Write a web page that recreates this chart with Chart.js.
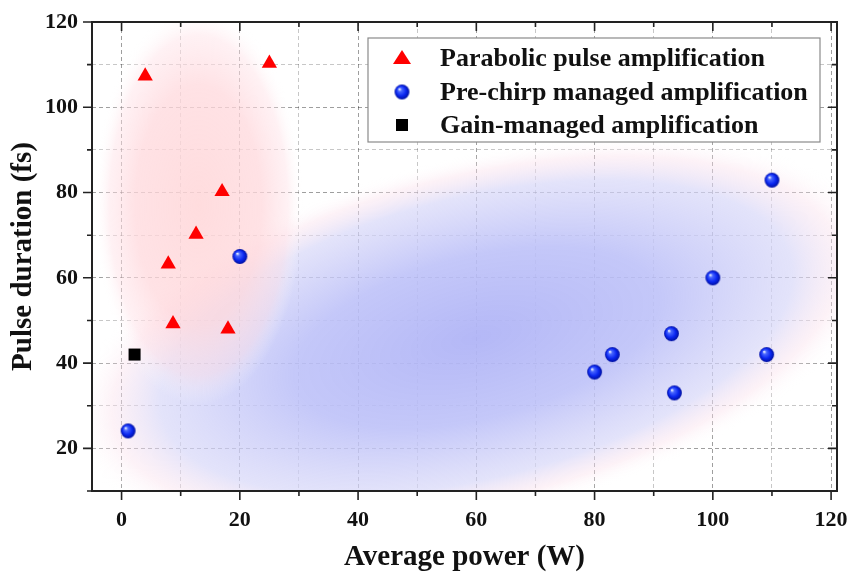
<!DOCTYPE html>
<html>
<head>
<meta charset="utf-8">
<script src="https://cdn.jsdelivr.net/npm/chart.js@4.4.0/dist/chart.umd.min.js"></script>
<style>
  html, body { margin: 0; padding: 0; background: #fff; }
  #wrap { width: 852px; height: 572px; position: relative; }
</style>
</head>
<body>
<div id="wrap"><canvas id="myChart"></canvas></div>
<script>
// data
const parabolicX = [4, 25, 17, 12.6, 7.9, 8.7, 18];
const parabolicY = [107.3, 110.3, 80.2, 70.2, 63.2, 49.2, 48];
const prechirpX = [1.1, 20, 80, 83, 93, 93.5, 100, 109.1, 110];
const prechirpY = [24.1, 65, 37.9, 42, 46.9, 33, 60, 42, 82.9];
const gainX = [2.2];
const gainY = [42];
const seriesLabels = [
  'Parabolic pulse amplification',
  'Pre-chirp managed amplification',
  'Gain-managed amplification',
];
const xLabelTicks = [0, 20, 40, 60, 80, 100, 120];
const yLabelTicks = [20, 40, 60, 80, 100, 120];

const serif = '"Liberation Serif", "Times New Roman", serif';

function toPoints(xs, ys) {
  return xs.map((v, i) => ({ x: v, y: ys[i] }));
}

function makeSphere(r) {
  const c = document.createElement('canvas');
  const s = Math.ceil(r * 2 + 2);
  c.width = s;
  c.height = s;
  const g = c.getContext('2d');
  const cx = s / 2, cy = s / 2;
  const grad = g.createRadialGradient(cx - r * 0.35, cy - r * 0.4, r * 0.05, cx, cy, r);
  grad.addColorStop(0, '#eef3ff');
  grad.addColorStop(0.22, '#4a68ff');
  grad.addColorStop(0.65, '#0a26f0');
  grad.addColorStop(1, '#0010a0');
  g.fillStyle = grad;
  g.beginPath();
  g.arc(cx, cy, r, 0, Math.PI * 2);
  g.fill();
  return c;
}
const sphere = makeSphere(7.4);

function drawBlob(ctx, cx, cy, rx, ry, ang, stops) {
  ctx.save();
  ctx.translate(cx, cy);
  ctx.rotate(ang);
  ctx.scale(1, ry / rx);
  const g = ctx.createRadialGradient(0, 0, 0, 0, 0, rx);
  stops.forEach(s => g.addColorStop(s[0], s[1]));
  ctx.fillStyle = g;
  ctx.beginPath();
  ctx.arc(0, 0, rx, 0, Math.PI * 2);
  ctx.fill();
  ctx.restore();
}

// shaded regions behind the markers
const blobs = {
  id: 'blobs',
  beforeDatasetsDraw(chart) {
    const { ctx, chartArea: a, scales: { x, y } } = chart;
    ctx.save();
    ctx.beginPath();
    ctx.rect(a.left, a.top, a.right - a.left, a.bottom - a.top);
    ctx.clip();
    drawBlob(ctx, x.getPixelForValue(60), y.getPixelForValue(46), 415, 180, -14 * Math.PI / 180, [
      [0, 'rgba(176,180,246,0.95)'],
      [0.45, 'rgba(188,192,248,0.88)'],
      [0.78, 'rgba(214,214,248,0.68)'],
      [0.9, 'rgba(250,224,236,0.42)'],
      [1, 'rgba(255,255,255,0)'],
    ]);
    drawBlob(ctx, x.getPixelForValue(13), y.getPixelForValue(77), 105, 200, 0, [
      [0, 'rgba(255,214,216,0.85)'],
      [0.6, 'rgba(255,216,220,0.75)'],
      [0.85, 'rgba(255,224,230,0.45)'],
      [1, 'rgba(255,255,255,0)'],
    ]);
    ctx.restore();
  },
};

// top/right frame and all tick marks
const frame = {
  id: 'frame',
  afterDatasetsDraw(chart) {
    const { ctx, chartArea: a, scales: { x, y } } = chart;
    ctx.save();
    ctx.strokeStyle = '#222';
    ctx.lineWidth = 2;
    ctx.strokeRect(a.left, a.top, a.right - a.left, a.bottom - a.top);
    ctx.lineWidth = 1.6;
    ctx.beginPath();
    for (let v = 0; v <= 120; v += 10) {
      const px = x.getPixelForValue(v);
      const len = v % 20 === 0 ? 9 : 5;
      ctx.moveTo(px, a.bottom); ctx.lineTo(px, a.bottom + len);
      ctx.moveTo(px, a.top); ctx.lineTo(px, a.top + len);
    }
    for (let v = 10; v <= 120; v += 10) {
      const py = y.getPixelForValue(v);
      const len = v % 20 === 0 ? 9 : 5;
      ctx.moveTo(a.left, py); ctx.lineTo(a.left - len, py);
      ctx.moveTo(a.right, py); ctx.lineTo(a.right - len, py);
    }
    ctx.stroke();
    ctx.restore();
  },
};

// legend drawn as a boxed panel inside the plot
const boxLegend = {
  id: 'boxLegend',
  afterDraw(chart) {
    const { ctx, chartArea: a } = chart;
    const left = a.right - 469, top = a.top + 16, w = 452, h = 104;
    ctx.save();
    ctx.fillStyle = '#fff';
    ctx.fillRect(left, top, w, h);
    ctx.strokeStyle = '#8a8a8a';
    ctx.lineWidth = 1.2;
    ctx.strokeRect(left, top, w, h);
    ctx.font = 'bold 26px ' + serif;
    ctx.textBaseline = 'middle';
    const rows = [top + 20, top + 54, top + 87];
    const mx = left + 34;
    chart.data.datasets.forEach((ds, i) => {
      const cy = rows[i];
      if (i === 0) {
        ctx.fillStyle = '#ff0000';
        ctx.beginPath();
        ctx.moveTo(mx, cy - 8);
        ctx.lineTo(mx + 9, cy + 6);
        ctx.lineTo(mx - 9, cy + 6);
        ctx.closePath();
        ctx.fill();
      } else if (i === 1) {
        ctx.drawImage(sphere, mx - sphere.width / 2, cy - sphere.height / 2);
      } else {
        ctx.fillStyle = '#000';
        ctx.fillRect(mx - 6, cy - 6, 12, 12);
      }
      ctx.fillStyle = '#111';
      ctx.fillText(ds.label, left + 72, cy + 1);
    });
    ctx.restore();
  },
};

function tensTicks(lo, hi) {
  return s => {
    const t = [];
    for (let v = lo; v <= hi; v += 10) t.push({ value: v });
    s.ticks = t;
  };
}

const gridColor = c => (c.tick && c.tick.value % 20 === 0 ? 'rgba(0,0,0,0.38)' : 'rgba(0,0,0,0.22)');

const config = {
  type: 'scatter',
  data: {
    datasets: [
      {
        label: seriesLabels[0],
        data: toPoints(parabolicX, parabolicY),
        pointStyle: 'triangle',
        pointRadius: 8.8,
        backgroundColor: '#ff0000',
        borderColor: '#ff0000',
        borderWidth: 0,
      },
      {
        label: seriesLabels[1],
        data: toPoints(prechirpX, prechirpY),
        pointStyle: sphere,
        pointRadius: 8,
      },
      {
        label: seriesLabels[2],
        data: toPoints(gainX, gainY),
        pointStyle: 'rect',
        pointRadius: 8.5,
        backgroundColor: '#000',
        borderColor: '#000',
        borderWidth: 0,
      },
    ],
  },
  options: {
    responsive: true,
    maintainAspectRatio: false,
    animation: false,
    layout: { padding: { left: 0, right: 15, top: 22, bottom: 0 } },
    plugins: {
      legend: { display: false },
      tooltip: { enabled: false },
    },
    scales: {
      x: {
        type: 'linear',
        min: -5,
        max: 121,
        afterBuildTicks: tensTicks(0, 120),
        afterFit: s => { s.height = 81; s.paddingLeft = 0; s.paddingRight = 0; },
        ticks: {
          padding: 16,
          color: '#111',
          font: { family: serif, size: 22, weight: 'bold' },
          callback: v => (xLabelTicks.includes(v) ? v : ''),
          maxRotation: 0,
          autoSkip: false,
        },
        grid: { drawTicks: false, lineWidth: 1, color: gridColor },
        border: { display: false, dash: [4, 3] },
        title: {
          display: true,
          text: 'Average power (W)',
          color: '#111',
          font: { family: serif, size: 29, weight: 'bold' },
          padding: { top: 0, bottom: -3 },
        },
      },
      y: {
        type: 'linear',
        min: 10,
        max: 120,
        afterBuildTicks: tensTicks(10, 120),
        afterFit: s => { s.width = 92; s.paddingTop = 0; s.paddingBottom = 0; },
        ticks: {
          padding: 14,
          color: '#111',
          font: { family: serif, size: 22, weight: 'bold' },
          callback: v => (yLabelTicks.includes(v) ? v : ''),
          autoSkip: false,
        },
        grid: { drawTicks: false, lineWidth: 1, color: gridColor },
        border: { display: false, dash: [4, 3] },
        title: {
          display: true,
          text: 'Pulse duration (fs)',
          color: '#111',
          font: { family: serif, size: 29, weight: 'bold' },
          padding: { top: 6, bottom: 0 },
        },
      },
    },
  },
  plugins: [blobs, frame, boxLegend],
};

const myChart = new Chart(document.getElementById('myChart'), config);
</script>
</body>
</html>
